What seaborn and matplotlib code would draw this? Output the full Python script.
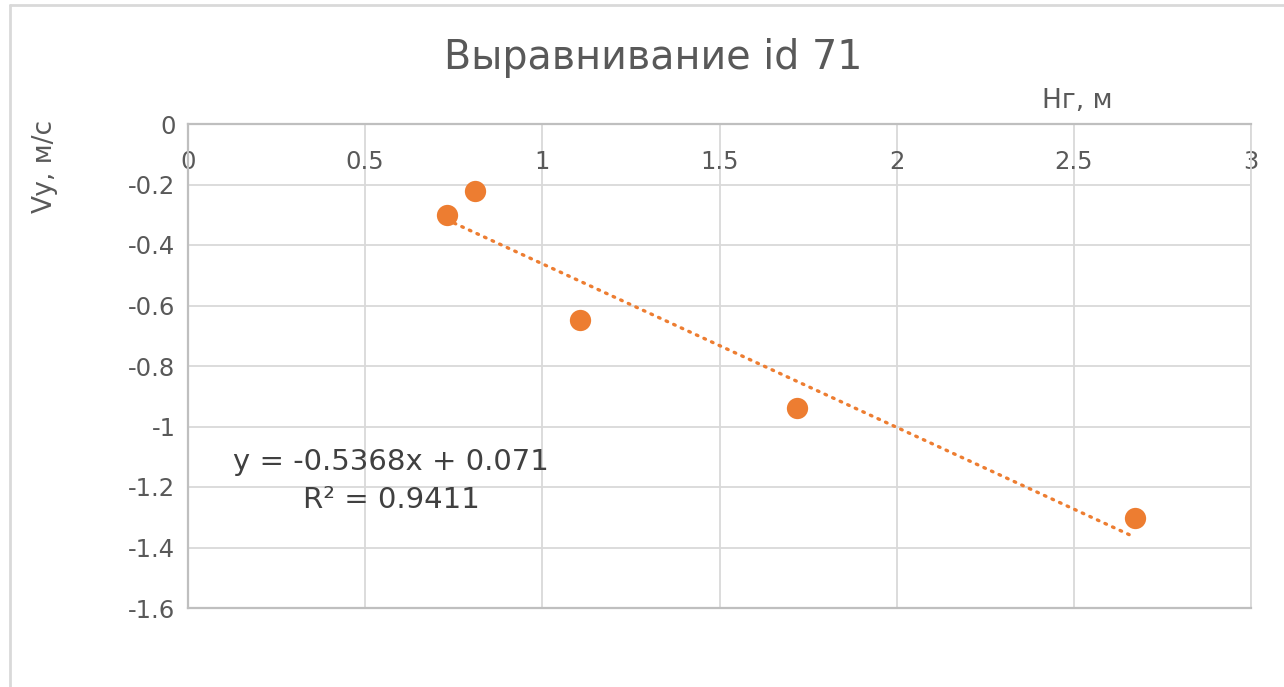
import numpy as np
import pandas as pd
import matplotlib
matplotlib.use("Agg")
import matplotlib.pyplot as plt
from matplotlib.lines import Line2D
import seaborn as sns

# data
hg = [0.73, 0.81, 1.107, 1.718, 2.672]          # Нг, м
vy = [-0.30, -0.222, -0.649, -0.94, -1.301]     # Vy, м/с
x_ticks = [0, 0.5, 1, 1.5, 2, 2.5, 3]
y_ticks = [0, -0.2, -0.4, -0.6, -0.8, -1, -1.2, -1.4, -1.6]
eq_text = "y = -0.5368x + 0.071\nR² = 0.9411"

orange = "#ED7D31"
grid_c = "#D9D9D9"
axis_c = "#BFBFBF"
text_c = "#595959"

sns.set_style("white")
plt.rcParams['font.family'] = ['DejaVu Sans']

df = pd.DataFrame({'hg': hg, 'vy': vy})

W, H = 1284, 687
fig = plt.figure(figsize=(W / 100, H / 100), dpi=100)
ax = fig.add_axes([188 / W, 1 - 608 / H, (1251 - 188) / W, (608 - 124) / H])

sns.regplot(data=df, x='hg', y='vy', ax=ax, ci=None, truncate=True,
            scatter_kws={'s': 235, 'color': orange, 'alpha': 1, 'linewidths': 0, 'zorder': 4},
            line_kws={'color': orange, 'linewidth': 2.4, 'linestyle': (0, (0.5, 2.0)),
                      'dash_capstyle': 'round', 'zorder': 3})

ax.set_xlim(0, 3)
ax.set_ylim(-1.6, 0)
ax.set_xticks(x_ticks)
ax.set_xticklabels([f"{t:g}" for t in x_ticks])
ax.set_yticks(y_ticks)
ax.set_yticklabels([f"{t:g}" for t in y_ticks])

ax.grid(True, color=grid_c, linewidth=1.3)
ax.set_axisbelow(True)

for side in ['top', 'left', 'bottom']:
    ax.spines[side].set_color(axis_c)
    ax.spines[side].set_linewidth(1.6)
ax.spines['right'].set_color(grid_c)
ax.spines['right'].set_linewidth(1.3)

# x labels sit under the zero line, like Excel
ax.tick_params(axis='x', top=True, bottom=False, labeltop=True, labelbottom=False,
               length=0, pad=-36, labelsize=17.5, labelcolor=text_c)
ax.tick_params(axis='y', length=0, pad=9, labelsize=17.5, labelcolor=text_c)

ax.xaxis.set_label_position('top')
ax.set_xlabel("Нг, м", fontsize=19, color=text_c)
ax.xaxis.set_label_coords(0.837, 1.033)
ax.set_ylabel("Vy, м/с", fontsize=19, color=text_c)
ax.yaxis.set_label_coords(-0.122, 0.912)

ax.text(0.191, 0.263, eq_text, transform=ax.transAxes, ha='center', va='center',
        multialignment='center', fontsize=21, color="#404040", linespacing=1.45)

fig.suptitle("Выравнивание id 71", x=653 / W, y=1 - 58 / H, va='center',
             fontsize=28.5, color=text_c)

# chart area frame (top and left edges)
fig.add_artist(Line2D([10 / W, 1], [1 - 5 / H, 1 - 5 / H], transform=fig.transFigure,
                      color=grid_c, linewidth=2))
fig.add_artist(Line2D([10 / W, 10 / W], [0, 1 - 5 / H], transform=fig.transFigure,
                      color=grid_c, linewidth=2))

fig.savefig("out.png", dpi=100)
